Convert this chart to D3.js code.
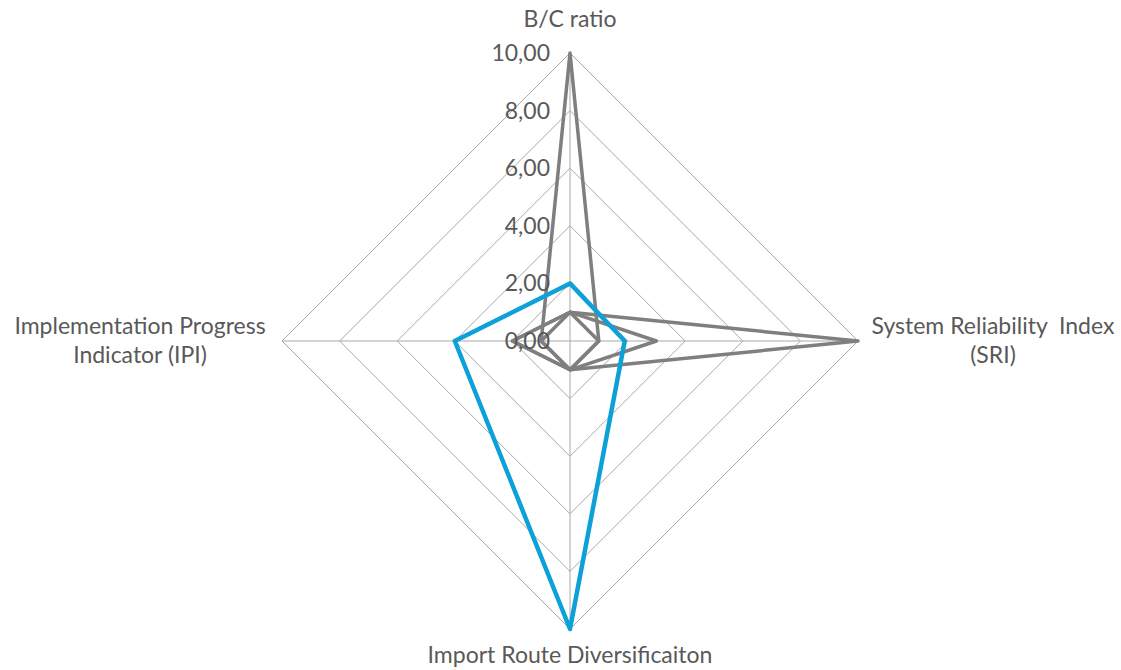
<!DOCTYPE html>
<html>
<head>
<meta charset="utf-8">
<script src="https://cdn.jsdelivr.net/npm/d3@7"></script>
<style>
  html, body { margin: 0; padding: 0; background: #fff; }
  svg { display: block; }
  text { font-family: Lato, "Open Sans", sans-serif; fill: #595959; }
</style>
</head>
<body>
<svg id="chart" width="1121" height="670"></svg>
<script>
// Data
const categories = ["B/C ratio", "System Reliability  Index (SRI)", "Import Route Diversificaiton", "Implementation Progress Indicator (IPI)"];
const tickValues = [0, 2, 4, 6, 8, 10];
const tickLabels = ["0,00", "2,00", "4,00", "6,00", "8,00", "10,00"];
const seriesA = [10, 1, 1, 1];
const seriesB = [1, 10, 1, 2];
const seriesC = [1, 3, 1, 2];
const seriesD = [1, 1, 1, 1];
const seriesBlue = [2, 1.9, 10, 4];
const graySeries = [seriesA, seriesB, seriesC, seriesD];

const svg = d3.select("#chart");
const cx = 570, cy = 341, R = 288;
const r = d3.scaleLinear().domain([0, 10]).range([0, R]);
const angle = d3.scalePoint().domain(categories.map((d, i) => i)).range([0, 2 * Math.PI * 3 / 4]);

const g = svg.append("g").attr("transform", `translate(${cx},${cy})`);
const pt = (i, v) => [Math.sin(angle(i)) * r(v), -Math.cos(angle(i)) * r(v)];

// grid rings
const lineClosed = d3.line().curve(d3.curveLinearClosed);
tickValues.filter(v => v > 0).forEach(v => {
  g.append("path")
    .attr("d", lineClosed(categories.map((c, i) => pt(i, v))))
    .attr("fill", "none").attr("stroke", "#a9a9a9").attr("stroke-width", 1);
});
// spokes
categories.forEach((c, i) => {
  const p = pt(i, 10);
  g.append("line").attr("x1", 0).attr("y1", 0).attr("x2", p[0]).attr("y2", p[1])
    .attr("stroke", "#a9a9a9").attr("stroke-width", 1);
});

// series
graySeries.forEach(s => {
  g.append("path")
    .attr("d", lineClosed(s.map((v, i) => pt(i, v))))
    .attr("fill", "none").attr("stroke", "#7f7f7f").attr("stroke-width", 3.5)
    .attr("stroke-linejoin", "round");
});
g.append("path")
  .attr("d", lineClosed(seriesBlue.map((v, i) => pt(i, v))))
  .attr("fill", "none").attr("stroke", "#0ea1d8").attr("stroke-width", 4.5)
  .attr("stroke-linejoin", "round");

// tick labels
tickValues.forEach((v, k) => {
  g.append("text").attr("x", -20).attr("y", -r(v)).attr("dy", "0.35em")
    .attr("text-anchor", "end").style("font-size", "23px").text(tickLabels[k]);
});

// category labels
const labelLines = [["B/C ratio"], ["System Reliability\u00a0 Index", "(SRI)"], ["Import Route Diversificaiton"], ["Implementation Progress", "Indicator (IPI)"]];
const labelPos = [[570, 19], [993, 326], [570, 655], [140, 326]];
labelLines.forEach((lines, i) => {
  const t = svg.append("text").attr("text-anchor", "middle").style("font-size", "23px")
    .attr("x", labelPos[i][0]).attr("y", labelPos[i][1]);
  lines.forEach((l, j) => {
    t.append("tspan").attr("x", labelPos[i][0]).attr("dy", j === 0 ? "0.35em" : "29px").text(l);
  });
});
</script>
</body>
</html>
